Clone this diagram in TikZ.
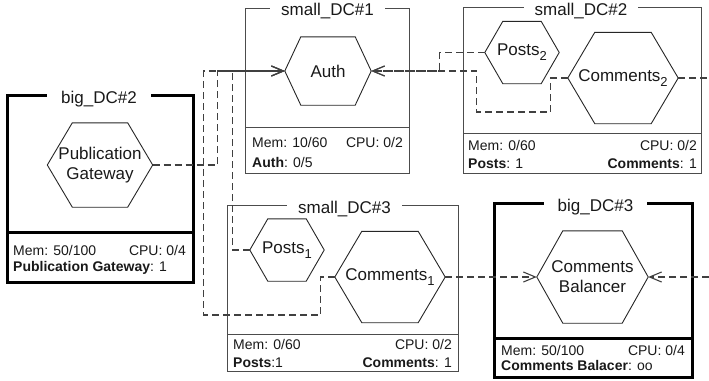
\documentclass[tikz,border=0pt]{standalone}
\usepackage{fontspec}
\setmainfont{Liberation Sans}
\usetikzlibrary{arrows.meta}
\tikzset{
  smallbox/.style={draw=black!70, line width=1pt},
  bigbox/.style={draw=black, line width=3pt},
  dctitle/.style={fill=white, inner xsep=11pt, inner ysep=2pt, anchor=base, font=\fontsize{17}{20}\selectfont, text=black!90},
  hextext/.style={inner sep=0pt, align=center, font=\fontsize{17}{20}\selectfont, text=black!90},
  hexline/.style={draw=black!85, line width=0.9pt},
  info/.style={inner sep=0pt, font=\fontsize{14}{16}\selectfont, text=black!90},
  conn/.style={draw=black!75, line width=1.1pt, dash pattern=on 7pt off 4pt},
  tip/.style={-{Straight Barb[length=12pt,width=10pt]}},
}
\newcommand\subidx[1]{\raisebox{-5pt}{\fontsize{13}{13}\selectfont #1}}
\newcommand\hexnode[7]{%
  \node[hextext, minimum width=#4*2pt, minimum height=#5*2pt] (#1) at (#2,#3) {#7};
  \draw[hexline] (#1.west) -- ([xshift=#6pt]#1.north west) -- ([xshift=-#6pt]#1.north east)
    -- (#1.east) -- ([xshift=-#6pt]#1.south east) -- ([xshift=#6pt]#1.south west) -- cycle;
}
\begin{document}
\begin{tikzpicture}[x=1pt,y=-1pt]
\useasboundingbox (0,0) rectangle (709,380);

% ---- big_DC#2
\draw[bigbox] (7,95) rectangle (193,282);
\draw[bigbox] (7,232) -- (193,232);
\node[dctitle, inner xsep=14pt] (tb2) at (99,103) {big\_DC\#2};
\hexnode{pg}{100}{165}{52.5}{42}{25}{Publication\\Gateway}
\node[info, anchor=base west] (mb2) at (13,255.5) {Mem: 50/100};
\node[info, anchor=base east] (cb2) at (186,255.5) {CPU: 0/4};
\node[info, anchor=base west] (sb2) at (13,271) {\textbf{Publication Gateway}: 1};

% ---- small_DC#1
\draw[smallbox] (245,8) rectangle (409,173);
\draw[smallbox] (245,127) -- (409,127);
\node[dctitle] (ts1) at (327.5,16) {small\_DC\#1};
\hexnode{auth}{328}{71}{43}{34}{16}{Auth}
\node[info, anchor=base west] (ms1) at (252,147) {Mem: 10/60};
\node[info, anchor=base east] (cs1) at (403,147) {CPU: 0/2};
\node[info, anchor=base west] (ss1) at (252,167) {\textbf{Auth}: 0/5};

% ---- small_DC#2
\draw[smallbox] (463,7) rectangle (701,173);
\draw[smallbox] (463,133) -- (701,133);
\node[dctitle] (ts2) at (581,15) {small\_DC\#2};
\hexnode{posts2}{522}{52.5}{37}{31}{18}{Posts\subidx{2}}
\hexnode{com2}{623}{78}{55}{45.5}{27}{Comments\subidx{2}}
\node[info, anchor=base west] (ms2) at (468,150) {Mem: 0/60};
\node[info, anchor=base east] (cs2) at (697,150) {CPU: 0/2};
\node[info, anchor=base west] (ps2) at (468,168) {\textbf{Posts}: 1};
\node[info, anchor=base east] (os2) at (697,168) {\textbf{Comments}: 1};

% ---- small_DC#3
\draw[smallbox] (227,205) rectangle (458,371);
\draw[smallbox] (227,334) -- (458,334);
\node[dctitle] (ts3) at (344.5,213) {small\_DC\#3};
\hexnode{posts1}{287}{250}{37}{31}{18}{Posts\subidx{1}}
\hexnode{com1}{390}{277}{55}{45.5}{27}{Comments\subidx{1}}
\node[info, anchor=base west] (ms3) at (233,349) {Mem: 0/60};
\node[info, anchor=base east] (cs3) at (452,349) {CPU: 0/2};
\node[info, anchor=base west] (ps3) at (233,367) {\textbf{Posts}:1};
\node[info, anchor=base east] (os3) at (452,367) {\textbf{Comments}: 1};

% ---- big_DC#3
\draw[bigbox] (494,203) rectangle (692,377);
\draw[bigbox] (494,338) -- (692,338);
\node[dctitle, inner xsep=14pt] (tb3) at (595.5,211) {big\_DC\#3};
\hexnode{cb}{592.5}{277}{55.5}{46}{26}{Comments\\Balancer}
\node[info, anchor=base west] (mb3) at (501,355) {Mem: 50/100};
\node[info, anchor=base east] (cb3) at (685,355) {CPU: 0/4};
\node[info, anchor=base west] (sb3) at (501,370) {\textbf{Comments Balacer}: oo};

% ---- free ends at the right edge
\coordinate (outA) at (709,78);
\coordinate (outB) at (709,277);

% ---- connectors
\draw[conn, tip] (pg.east) -- ++(65,0) |- (auth.west);
\draw[conn, tip] (posts1.west) -- ++(-17,0) |- (auth.west);
\draw[conn, tip] (com1.west) -- ++(-14,0) |- ++(-117,38) |- (auth.west);
\draw[conn, tip] (posts2.west) -- ++(-45,0) |- (auth.east);
\draw[conn, tip] (com2.west) -- ++(-17,0) |- ++(-74,34) |- (auth.east);
\draw[conn] (com2.east) -- (outA);
\draw[conn, tip] (com1.east) -- (cb.west);
\draw[conn, tip] (outB) -- (cb.east);
\end{tikzpicture}
\end{document}
